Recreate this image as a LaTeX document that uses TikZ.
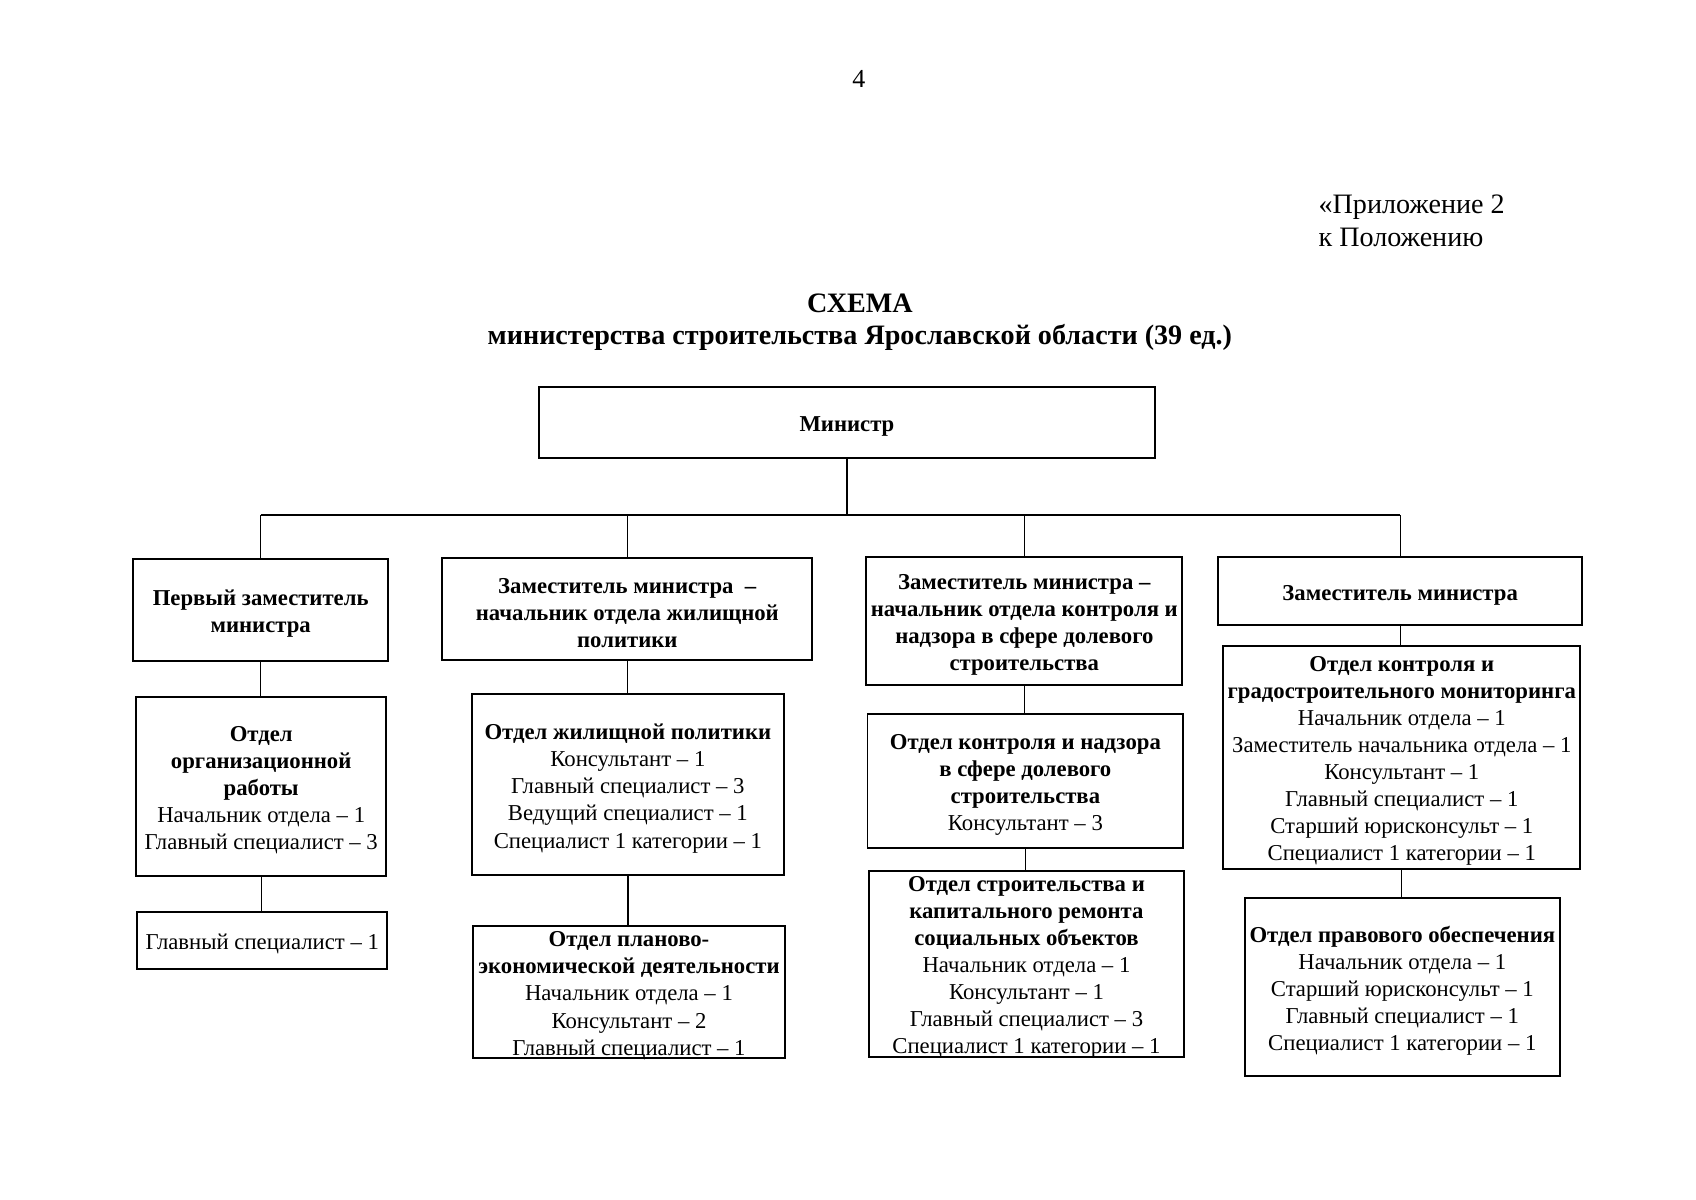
\documentclass[tikz,border=0pt]{standalone}
\usepackage{fontspec}
\setmainfont{Liberation Serif}
\begin{document}
\begin{tikzpicture}[x=0.5pt,y=-0.5pt,
  box/.style={draw, line width=0.9pt, rectangle, inner sep=0pt},
  txt/.style={align=center, inner sep=0pt, yshift=-1.75pt,
    font=\fontsize{10.5}{12.5}\selectfont},
  conn/.style={line width=0.6pt}]
\useasboundingbox (0,0) rectangle (1568,1109);
\newcommand{\bb}[1]{\textbf{#1}}
% header texts
\node[font=\fontsize{12}{14}\selectfont] (pg) at (794,73) {4};
\node[anchor=west, align=left, font=\fontsize{13}{15}\selectfont] (app) at (1212,204) {«Приложение 2\\к Положению};
\node[align=center, font=\fontsize{13}{15}\bfseries\selectfont] (title) at (795,298) {СХЕМА\\министерства строительства Ярославской области (39 ед.)};
% boxes
\node[box, minimum width=285pt, minimum height=32.5pt,
  label={[txt]center:{\bb{Министр}}}] (min) at (783,390.5) {};
\node[box, minimum width=118pt, minimum height=47pt,
  label={[txt]center:{\bb{Первый заместитель}\\\bb{министра}}}] (b1) at (241,564) {};
\node[box, minimum width=171pt, minimum height=47pt,
  label={[txt]center:{\bb{Заместитель министра \ –}\\\bb{начальник отдела жилищной}\\\bb{политики}}}] (b2) at (580,563) {};
\node[box, minimum width=146pt, minimum height=59pt,
  label={[txt]center:{\bb{Заместитель министра –}\\\bb{начальник отдела контроля и}\\\bb{надзора в сфере долевого}\\\bb{строительства}}}] (b3) at (947,574) {};
\node[box, minimum width=168.5pt, minimum height=31.5pt,
  label={[txt]center:{\bb{Заместитель министра}}}] (b4) at (1294.5,546.5) {};
\node[box, minimum width=115.5pt, minimum height=83pt,
  label={[txt]center:{\bb{Отдел}\\\bb{организационной}\\\bb{работы}\\Начальник отдела – 1\\Главный специалист – 3}}] (b1a) at (241.5,727) {};
\node[box, minimum width=115.5pt, minimum height=26.5pt,
  label={[txt]center:{Главный специалист – 1}}] (b1b) at (242.5,869.5) {};
\node[box, minimum width=144.5pt, minimum height=83.5pt,
  label={[txt]center:{\bb{Отдел жилищной политики}\\Консультант – 1\\Главный специалист – 3\\Ведущий специалист – 1\\Специалист 1 категории – 1}}] (b2a) at (580.5,725.5) {};
\node[box, minimum width=144.5pt, minimum height=61pt,
  label={[txt]center:{\bb{Отдел планово-}\\\bb{экономической деятельности}\\Начальник отдела – 1\\Консультант – 2\\Главный специалист – 1}}] (b2b) at (581.5,917) {};
\node[box, minimum width=146pt, minimum height=62pt,
  label={[txt]center:{\bb{Отдел контроля и надзора}\\\bb{в сфере долевого}\\\bb{строительства}\\Консультант – 3}}] (b3a) at (948,722) {};
\node[box, minimum width=146pt, minimum height=86pt,
  label={[txt]center:{\bb{Отдел строительства и}\\\bb{капитального ремонта}\\\bb{социальных объектов}\\Начальник отдела – 1\\Консультант – 1\\Главный специалист – 3\\Специалист 1 категории – 1}}] (b3b) at (949,891) {};
\node[box, minimum width=165pt, minimum height=103pt,
  label={[txt]center:{\bb{Отдел контроля и}\\\bb{градостроительного мониторинга}\\Начальник отдела – 1\\Заместитель начальника отдела – 1\\Консультант – 1\\Главный специалист – 1\\Старший юрисконсульт – 1\\Специалист 1 категории – 1}}] (b4a) at (1296,700) {};
\node[box, minimum width=145.5pt, minimum height=82.5pt,
  label={[txt]center:{\bb{Отдел правового обеспечения}\\Начальник отдела – 1\\Старший юрисконсульт – 1\\Главный специалист – 1\\Специалист 1 категории – 1}}] (b4b) at (1296.5,912.5) {};
% connectors
\coordinate (bus) at (781,476);
\draw[conn] (min.south) -- (min.south |- bus);
\draw[conn] (b1.north |- bus) -- (b4.north |- bus);
\foreach \n in {b1,b2,b3,b4} \draw[conn] (\n.north) -- (\n.north |- bus);
\draw[conn] (b1.south) -- (b1.south |- b1a.north);
\draw[conn] (b1a.south) -- (b1a.south |- b1b.north);
\draw[conn] (b2.south) -- (b2.south |- b2a.north);
\draw[conn] (b2a.south) -- (b2a.south |- b2b.north);
\draw[conn] (b3.south) -- (b3.south |- b3a.north);
\draw[conn] (b3a.south) -- (b3a.south |- b3b.north);
\draw[conn] (b4.south) -- (b4.south |- b4a.north);
\draw[conn] (b4a.south) -- (b4a.south |- b4b.north);
\end{tikzpicture}
\end{document}
